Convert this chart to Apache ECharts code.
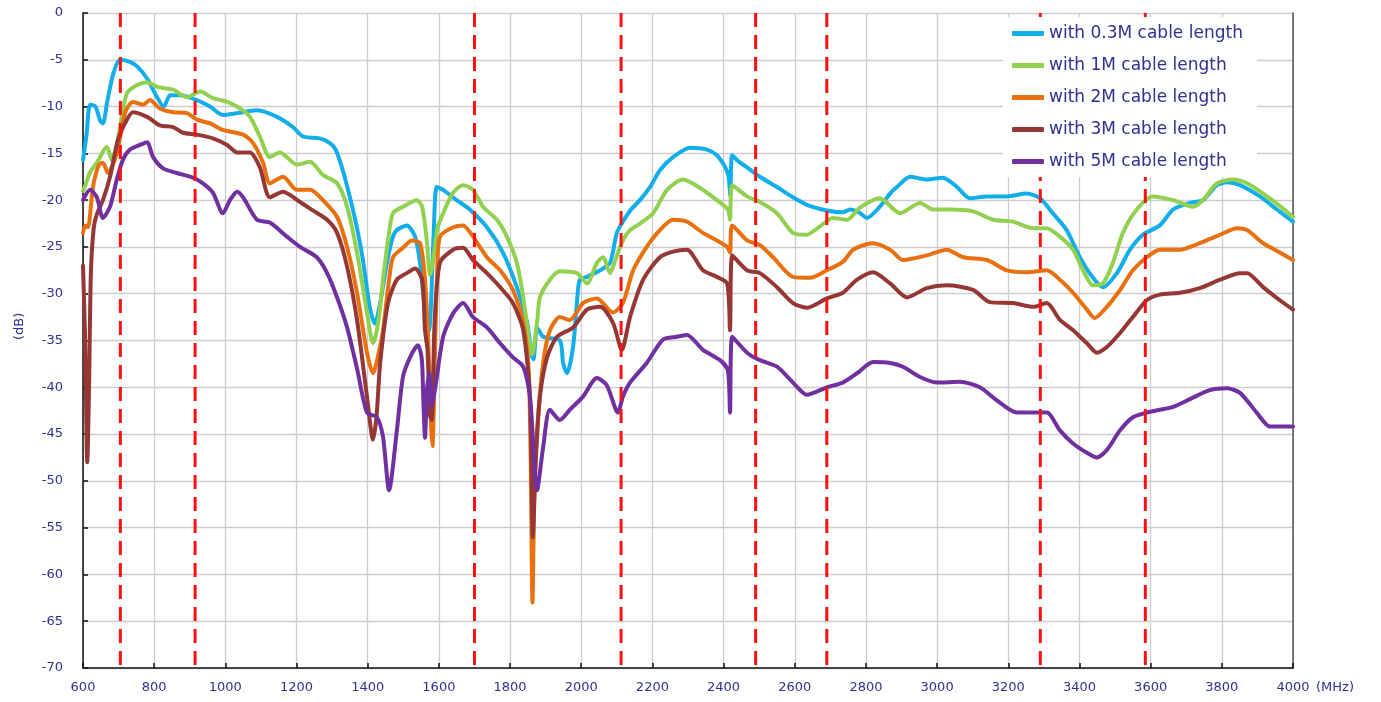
<!DOCTYPE html>
<html>
<head>
<meta charset="utf-8">
<script src="https://cdn.jsdelivr.net/npm/echarts@6/dist/echarts.min.js"></script>
<style>
  html, body { margin: 0; padding: 0; background: #fff; }
  #chart { width: 1381px; height: 702px; }
</style>
</head>
<body>
<div id="chart"></div>
<script>
// Return loss (dB) versus frequency (MHz) for several cable lengths
const seriesNames = [
  'with 0.3M cable length',
  'with 1M cable length',
  'with 2M cable length',
  'with 3M cable length',
  'with 5M cable length'
];

const cable03m = [[600,-15.7],[610,-13],[620,-9.8],[635,-10],[648,-11.5],[656,-11.8],[668,-9.5],[685,-6.5],[704,-5.0],[730,-5.2],[752,-5.7],[780,-7.0],[808,-9.0],[827,-10.0],[845,-8.8],[873,-8.8],[920,-9.3],[957,-10.0],[993,-10.9],[1033,-10.7],[1089,-10.4],[1145,-11.1],[1190,-12.2],[1218,-13.2],[1266,-13.4],[1294,-13.9],[1310,-14.6],[1330,-16.8],[1350,-19.7],[1370,-23],[1387,-26.5],[1406,-31.5],[1420,-33.2],[1435,-31],[1454,-26.7],[1470,-24],[1482,-23.2],[1510,-22.7],[1533,-23.9],[1547,-26.7],[1556,-30],[1572,-34],[1585,-24],[1594,-18.6],[1612,-18.9],[1650,-20],[1687,-21],[1735,-22.9],[1780,-25.6],[1819,-29.3],[1848,-33.1],[1860,-36.5],[1866,-37],[1876,-33.6],[1893,-34.6],[1940,-35],[1949,-37.4],[1960,-38.5],[1977,-35.7],[1990,-30],[1996,-28.5],[2016,-28.2],[2053,-27.5],[2081,-26.7],[2100,-23.5],[2117,-22.3],[2140,-21],[2165,-20],[2195,-18.5],[2221,-16.8],[2258,-15.4],[2306,-14.4],[2353,-14.6],[2381,-15.2],[2405,-16.5],[2414,-17.5],[2419,-19.5],[2424,-15.2],[2440,-15.8],[2466,-16.5],[2502,-17.5],[2550,-18.6],[2595,-19.7],[2634,-20.5],[2690,-21.1],[2735,-21.3],[2755,-21],[2780,-21.3],[2803,-21.9],[2839,-20.7],[2870,-19.2],[2887,-18.6],[2924,-17.5],[2971,-17.8],[3016,-17.6],[3056,-18.6],[3092,-19.8],[3140,-19.6],[3196,-19.6],[3252,-19.3],[3289,-19.8],[3325,-21.4],[3364,-23.2],[3401,-26.1],[3438,-28.3],[3466,-29.3],[3505,-27.8],[3542,-25.3],[3578,-23.7],[3626,-22.7],[3663,-21],[3710,-20.3],[3747,-20],[3786,-18.4],[3814,-18.1],[3851,-18.4],[3907,-19.6],[3955,-21],[4000,-22.3]];

const cable1m = [[600,-19],[605,-18.6],[620,-17],[639,-16],[667,-14.3],[681,-15.7],[695,-14],[704,-12.2],[723,-8.6],[752,-7.7],[780,-7.4],[808,-7.9],[853,-8.2],[892,-9.0],[929,-8.4],[965,-9.1],[1005,-9.5],[1041,-10.2],[1069,-11.1],[1097,-13.2],[1125,-15.4],[1153,-14.9],[1201,-16.2],[1238,-15.9],[1274,-17.3],[1314,-18.2],[1342,-20.7],[1370,-25.6],[1398,-32.0],[1415,-35.3],[1430,-33],[1443,-28.5],[1460,-23.5],[1471,-21.4],[1499,-20.7],[1538,-20],[1553,-20.7],[1566,-24.3],[1575,-28],[1583,-26.7],[1596,-23],[1612,-21.4],[1640,-19.2],[1668,-18.4],[1696,-18.9],[1724,-20.7],[1763,-22.1],[1791,-23.9],[1819,-26.7],[1837,-30.4],[1856,-35.7],[1862,-36.5],[1876,-33],[1884,-30.4],[1912,-28.5],[1940,-27.6],[1988,-27.8],[2016,-28.9],[2044,-26.7],[2061,-26.1],[2081,-27.8],[2095,-26.5],[2117,-24.3],[2137,-23.2],[2165,-22.5],[2202,-21.4],[2241,-18.9],[2286,-17.8],[2334,-18.7],[2381,-20],[2412,-21],[2418,-22.1],[2424,-18.4],[2466,-19.6],[2502,-20.2],[2550,-21.4],[2595,-23.5],[2634,-23.7],[2671,-22.8],[2707,-21.9],[2747,-22.1],[2783,-20.8],[2839,-19.8],[2896,-21.4],[2952,-20.3],[2988,-21],[3036,-21],[3101,-21.2],[3157,-22.1],[3213,-22.3],[3270,-23],[3308,-23],[3345,-23.9],[3382,-25.3],[3410,-27.5],[3438,-29.1],[3466,-28.9],[3494,-26.7],[3522,-23.5],[3561,-21],[3606,-19.6],[3663,-20],[3719,-20.7],[3747,-20],[3786,-18.2],[3831,-17.8],[3871,-18.2],[3927,-19.6],[3972,-20.9],[4000,-21.8]];

const cable2m = [[600,-23.5],[607,-22.7],[614,-22.9],[628,-18.6],[645,-16.2],[656,-16],[670,-17.1],[695,-15],[718,-10.7],[740,-9.5],[769,-9.8],[788,-9.3],[816,-10.2],[853,-10.6],[892,-10.7],[920,-11.4],[957,-11.8],[993,-12.5],[1050,-13],[1078,-13.9],[1106,-16],[1125,-18.2],[1162,-17.5],[1201,-18.9],[1238,-18.9],[1274,-20],[1314,-21.8],[1342,-25],[1370,-29.9],[1398,-36.3],[1415,-38.5],[1430,-36.5],[1443,-33.9],[1460,-28.5],[1471,-26.1],[1499,-25.1],[1524,-24.3],[1547,-24.6],[1561,-28.5],[1570,-35],[1578,-44],[1582,-46.3],[1588,-38],[1595,-28],[1603,-23.9],[1640,-22.9],[1668,-22.7],[1696,-23.9],[1735,-26.1],[1772,-27.5],[1808,-29.6],[1837,-33.1],[1852,-38],[1858,-48],[1863,-63],[1868,-52],[1876,-44.6],[1893,-37.4],[1912,-33.9],[1940,-32.5],[1968,-32.8],[2005,-31],[2044,-30.5],[2089,-32],[2117,-31],[2146,-27.5],[2184,-25],[2221,-23.2],[2258,-22.1],[2297,-22.3],[2342,-23.5],[2381,-24.3],[2410,-25],[2418,-25.6],[2424,-22.7],[2466,-24.3],[2502,-24.8],[2539,-26.1],[2595,-28.2],[2643,-28.3],[2690,-27.5],[2735,-26.6],[2764,-25.3],[2820,-24.6],[2868,-25.3],[2904,-26.4],[2971,-25.9],[3027,-25.3],[3073,-26.1],[3140,-26.4],[3196,-27.5],[3252,-27.7],[3308,-27.5],[3345,-28.5],[3382,-29.9],[3421,-31.7],[3443,-32.6],[3477,-31.4],[3514,-29.6],[3550,-27.5],[3589,-26.1],[3626,-25.3],[3682,-25.3],[3738,-24.6],[3795,-23.7],[3842,-23],[3871,-23.2],[3916,-24.6],[3963,-25.6],[4000,-26.4]];

const cable3m = [[600,-27],[606,-35],[612,-48],[617,-40],[622,-28],[630,-23],[639,-21.5],[656,-20],[676,-17.5],[698,-13.6],[718,-11.8],[740,-10.6],[780,-11.1],[816,-12],[853,-12.2],[881,-12.8],[920,-13],[965,-13.4],[1005,-14.1],[1033,-14.9],[1069,-14.9],[1097,-16.5],[1125,-19.7],[1162,-19.1],[1210,-20.2],[1246,-21.1],[1286,-22.1],[1314,-23.5],[1342,-27.1],[1370,-32.8],[1398,-41],[1415,-45.6],[1425,-43],[1435,-37.4],[1457,-31],[1482,-28.5],[1510,-27.8],[1533,-27.3],[1553,-28.5],[1561,-33.9],[1568,-36],[1575,-43],[1580,-43.5],[1588,-33],[1603,-26.7],[1640,-25.3],[1668,-25.1],[1696,-26.4],[1735,-27.8],[1772,-29.3],[1808,-31],[1837,-33.9],[1856,-41],[1864,-56],[1872,-48],[1884,-41],[1904,-36.8],[1932,-34.6],[1977,-33.6],[2016,-31.7],[2053,-31.4],[2089,-33.1],[2114,-36],[2137,-32.5],[2174,-28.5],[2221,-26.1],[2258,-25.5],[2297,-25.3],[2342,-27.5],[2381,-28.2],[2410,-28.9],[2418,-33.9],[2424,-25.9],[2466,-27.5],[2502,-27.8],[2550,-29.3],[2595,-31],[2634,-31.5],[2690,-30.5],[2735,-29.9],[2775,-28.5],[2820,-27.7],[2868,-28.9],[2915,-30.4],[2971,-29.4],[3027,-29.1],[3101,-29.6],[3148,-30.9],[3213,-31],[3270,-31.4],[3308,-31],[3345,-32.8],[3382,-33.9],[3421,-35.3],[3449,-36.3],[3477,-35.7],[3514,-34.2],[3550,-32.5],[3589,-30.7],[3626,-30.1],[3682,-29.9],[3738,-29.4],[3795,-28.5],[3851,-27.8],[3871,-27.8],[3916,-29.3],[3963,-30.7],[4000,-31.7]];

const cable5m = [[600,-20],[620,-18.9],[639,-19.7],[656,-21.9],[676,-20.7],[695,-17.8],[712,-15.7],[732,-14.6],[760,-14.1],[780,-13.8],[797,-15.4],[825,-16.6],[864,-17.1],[909,-17.6],[937,-18.2],[965,-19.2],[993,-21.4],[1013,-20],[1033,-19.1],[1050,-19.7],[1089,-22.1],[1125,-22.4],[1173,-23.9],[1210,-25],[1257,-26.1],[1286,-27.8],[1314,-30.4],[1342,-33.6],[1370,-38],[1398,-42.7],[1426,-43.2],[1443,-45.3],[1460,-51],[1482,-44.6],[1499,-38.9],[1519,-36.8],[1541,-35.5],[1552,-37],[1556,-41],[1561,-45.4],[1567,-40],[1573,-38.5],[1580,-42],[1590,-40],[1612,-34.6],[1640,-32.1],[1668,-31],[1696,-32.5],[1735,-33.6],[1772,-35.3],[1808,-36.8],[1837,-37.8],[1856,-41],[1876,-51],[1893,-46.4],[1912,-42.4],[1940,-43.5],[1968,-42.4],[2005,-41],[2044,-39],[2072,-39.8],[2103,-42.7],[2117,-41],[2137,-39.5],[2184,-37.4],[2230,-34.9],[2269,-34.6],[2297,-34.4],[2342,-36],[2390,-37.1],[2412,-38.2],[2418,-42.7],[2424,-34.6],[2466,-36.3],[2502,-37.1],[2550,-37.8],[2595,-39.5],[2634,-40.8],[2690,-40],[2735,-39.5],[2775,-38.5],[2820,-37.3],[2868,-37.4],[2904,-37.8],[2952,-38.9],[3000,-39.5],[3064,-39.4],[3120,-40],[3168,-41.4],[3224,-42.7],[3270,-42.7],[3308,-42.7],[3345,-44.6],[3382,-46],[3421,-47],[3449,-47.5],[3477,-46.7],[3514,-44.6],[3550,-43.2],[3589,-42.7],[3626,-42.4],[3663,-42.1],[3719,-41.1],[3766,-40.3],[3814,-40.1],[3851,-40.6],[3898,-42.7],[3935,-44.2],[3972,-44.2],[4000,-44.2]];

// Band edge markers (MHz)
const bandEdges = [705, 915, 1700, 2112, 2490, 2690, 3290, 3585];

const seriesColors = ['#12AEEA', '#92D050', '#E8700E', '#953735', '#7030A0'];
const seriesData = [cable03m, cable1m, cable2m, cable3m, cable5m];

const textColor = '#2E3192';
const labelFont = 'DejaVu Sans';

const curves = seriesNames.map((name, i) => ({
  name: name,
  type: 'line',
  data: seriesData[i],
  showSymbol: false,
  smooth: 0.25,
  z: 3,
  lineStyle: { color: seriesColors[i], width: 4, cap: 'round', join: 'round' },
  itemStyle: { color: seriesColors[i] },
  silent: true
}));

const edgeLines = bandEdges.map((f) => ({
  name: 'edge' + f,
  type: 'line',
  data: [[f, 0], [f, -70]],
  showSymbol: false,
  z: 4,
  silent: true,
  lineStyle: { color: '#FF1010', width: 3, type: [14, 8] }
}));

const chart = echarts.init(document.getElementById('chart'), null, { renderer: 'canvas' });
chart.setOption({
  animation: false,
  backgroundColor: '#fff',
  grid: { left: 83, right: 88, top: 13, bottom: 34 },
  legend: {
    data: seriesNames,
    orient: 'vertical',
    left: 1003,
    top: 17,
    backgroundColor: '#fff',
    padding: [8, 14, 7, 9],
    itemWidth: 32,
    itemHeight: 5,
    itemGap: 15,
    icon: 'roundRect',
    textStyle: { color: textColor, fontFamily: labelFont, fontSize: 17, lineHeight: 16 },
    selectedMode: false,
    z: 10
  },
  xAxis: {
    type: 'value',
    min: 600,
    max: 4000,
    interval: 200,
    axisLine: { show: true, onZero: false, lineStyle: { color: '#111', width: 1.5 } },
    axisTick: { show: true, inside: true, length: 5, lineStyle: { color: '#111', width: 1.5 } },
    axisLabel: { color: textColor, fontFamily: labelFont, fontSize: 13, margin: 13, formatter: (v) => String(v) },
    splitLine: { show: true, lineStyle: { color: '#CDCDCD', width: 1.3 } }
  },
  yAxis: [{
    type: 'value',
    min: -70,
    max: 0,
    interval: 5,
    axisLine: { show: true, onZero: false, lineStyle: { color: '#111', width: 1.5 } },
    axisTick: { show: true, inside: true, length: 5, lineStyle: { color: '#111', width: 1.5 } },
    axisLabel: { color: textColor, fontFamily: labelFont, fontSize: 13, margin: 20, formatter: (v) => String(v) },
    splitLine: { show: true, lineStyle: { color: '#CDCDCD', width: 1.3 } }
  }, {
    type: 'value',
    position: 'right',
    min: -70,
    max: 0,
    interval: 5,
    axisLine: { show: true, onZero: false, lineStyle: { color: '#555', width: 1.5 } },
    axisTick: { show: false },
    axisLabel: { show: false },
    splitLine: { show: false }
  }],
  graphic: [
    {
      type: 'text',
      left: 1316,
      top: 681,
      style: { text: '(MHz)', fill: textColor, font: '13px "DejaVu Sans"' }
    },
    {
      type: 'text',
      x: 13,
      y: 340,
      rotation: Math.PI / 2,
      style: { text: '(dB)', fill: textColor, font: '13px "DejaVu Sans"' }
    }
  ],
  series: curves.concat(edgeLines)
});
</script>
</body>
</html>
